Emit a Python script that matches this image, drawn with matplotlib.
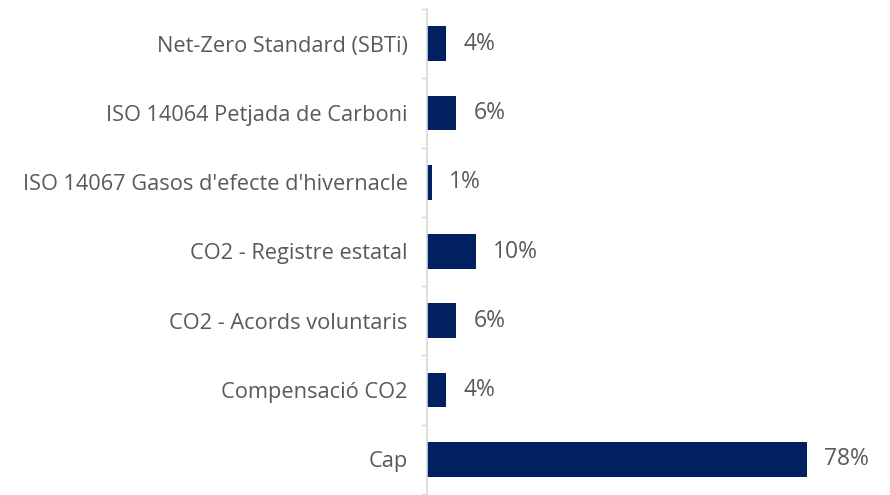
import matplotlib
matplotlib.use("Agg")
import matplotlib.pyplot as plt
import numpy as np

categories = ["Net-Zero Standard (SBTi)", "ISO 14064 Petjada de Carboni",
              "ISO 14067 Gasos d'efecte d'hivernacle", "CO2 - Registre estatal",
              "CO2 - Acords voluntaris", "Compensació CO2", "Cap"]
values = [4, 6, 1, 10, 6, 4, 78]
value_labels = ["4%", "6%", "1%", "10%", "6%", "4%", "78%"]

plt.rcParams['font.family'] = ['Open Sans', 'DejaVu Sans']
txt = '#595959'
bar_color = '#00205F'

fig = plt.figure(figsize=(8.9, 4.95), dpi=100)
ax = fig.add_axes([427/890, 1 - 494/495, (870-427)/890, (494-9)/495])

y = np.arange(len(categories))
ax.barh(y, values, height=0.5, color=bar_color)
ax.set_ylim(len(categories) - 0.5, -0.5)
ax.set_xlim(0, 443/4.87)

for yi, v, lab in zip(y, values, value_labels):
    ax.annotate(lab, (v, yi), xytext=(12.5, 0), textcoords='offset points',
                va='center', ha='left', fontsize=16.5, color=txt)

ax.set_yticks(y)
ax.set_yticklabels(categories, fontsize=15.7, color=txt)
ax.tick_params(axis='y', which='major', length=0, pad=14)
ax.set_yticks(np.arange(-0.5, len(categories)), minor=True)
ax.tick_params(axis='y', which='minor', length=4, width=1, color='#D9D9D9', direction='out')
ax.set_xticks([])
for s in ['top', 'right', 'bottom']:
    ax.spines[s].set_visible(False)
ax.spines['left'].set_color('#D9D9D9')
ax.spines['left'].set_linewidth(1.2)

fig.savefig('out.png', dpi=100)
